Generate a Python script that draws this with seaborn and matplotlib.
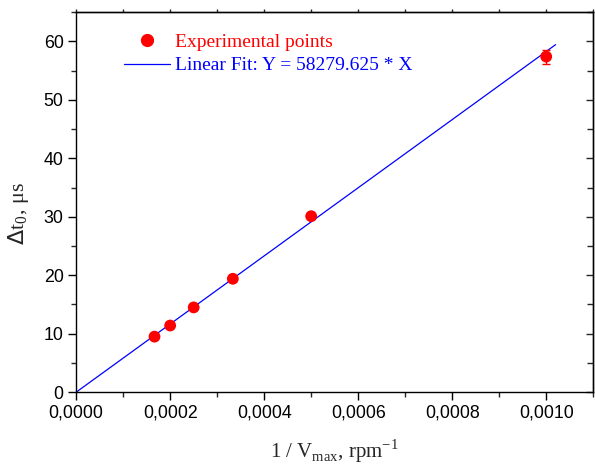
import matplotlib
matplotlib.use("Agg")
import matplotlib.pyplot as plt
from matplotlib.ticker import MultipleLocator, FuncFormatter
from matplotlib.lines import Line2D
import numpy as np
import pandas as pd
import seaborn as sns

# Measured delays against inverse maximum rotation speed
inv_vmax = [1 / 6000, 1 / 5000, 1 / 4000, 1 / 3000, 1 / 2000, 1 / 1000]
delta_t0 = [9.5, 11.4, 14.5, 19.4, 30.1, 57.4]
delta_err = [0.3, 0.3, 0.3, 0.3, 0.4, 1.2]

# Linear fit through the origin
slope = 58279.625
fit_x = [0.0, 0.00102]

sns.set_theme(style="ticks")
plt.rcParams["font.family"] = ["Liberation Sans", "DejaVu Sans"]

fig = plt.figure(figsize=(5.95, 4.68), dpi=100)
ax = fig.add_axes([0.128, 0.162, 0.869, 0.812])

pts = pd.DataFrame({"x": inv_vmax, "y": delta_t0})
fit = pd.DataFrame({"x": fit_x, "y": [slope * v for v in fit_x]})

sns.lineplot(data=fit, x="x", y="y", ax=ax, color="#0000ff", lw=0.9, zorder=2)
ax.errorbar(inv_vmax, delta_t0, yerr=delta_err, fmt="none", ecolor="#ff0000",
            elinewidth=1.0, capsize=3, capthick=1.0, zorder=3)
sns.scatterplot(data=pts, x="x", y="y", ax=ax, color="#ff0000", s=72,
                edgecolor="none", zorder=4)

ax.set_xlim(0, 0.0011)
ax.set_ylim(0, 65)
ax.xaxis.set_major_locator(MultipleLocator(0.0002))
ax.xaxis.set_minor_locator(MultipleLocator(0.0001))
ax.yaxis.set_major_locator(MultipleLocator(10))
ax.yaxis.set_minor_locator(MultipleLocator(5))
ax.xaxis.set_major_formatter(FuncFormatter(lambda v, p: f"{v:.4f}".replace(".", ",")))
ax.yaxis.set_major_formatter(FuncFormatter(lambda v, p: f"{v:.0f}"))

for s in ax.spines.values():
    s.set_linewidth(1.0)
    s.set_color("black")

# Bottom/left: outward ticks with labels
ax.tick_params(axis="both", which="major", labelsize=12.8, width=1.0, length=6,
               direction="out", colors="black", pad=3)
ax.tick_params(axis="both", which="minor", width=1.0, length=3.5, direction="out")

# Top: short outward ticks; right: inward ticks
top = ax.secondary_xaxis("top")
top.xaxis.set_major_locator(MultipleLocator(0.0002))
top.xaxis.set_minor_locator(MultipleLocator(0.0001))
top.tick_params(which="both", direction="out", length=2.5, width=1.0,
                labeltop=False)
top.spines["top"].set_linewidth(1.0)
right = ax.secondary_yaxis("right")
right.yaxis.set_major_locator(MultipleLocator(10))
right.yaxis.set_minor_locator(MultipleLocator(5))
right.tick_params(which="major", direction="in", length=5, width=1.0,
                  labelright=False)
right.tick_params(which="minor", direction="in", length=4, width=1.0,
                  labelright=False)
right.spines["right"].set_linewidth(1.0)

serif = ["Liberation Serif", "DejaVu Serif"]
ax.set_xlabel(r"1 / V$_{\mathregular{max}}$, rpm$^{\mathregular{-1}}$",
              fontsize=15, family=serif, labelpad=11)
ax.set_ylabel(r"$\Delta$t$_{\mathregular{0}}$, μs", fontsize=16, family=serif)
ax.yaxis.set_label_coords(-0.088, 0.47)

handles = [
    Line2D([], [], marker="o", ls="none", color="#ff0000", markersize=8.5),
    Line2D([], [], color="#0000ff", lw=0.9),
]
leg = ax.legend(handles, ["Experimental points", "Linear Fit: Y = 58279.625 * X"],
                loc="upper left", bbox_to_anchor=(0.073, 0.97), frameon=False,
                prop={"family": serif, "size": 14}, handlelength=2.4,
                handletextpad=0.25, labelspacing=0.3, borderpad=0)
for t, c in zip(leg.get_texts(), ["#ff0000", "#0000ff"]):
    t.set_color(c)

fig.savefig("out.png", dpi=100)
